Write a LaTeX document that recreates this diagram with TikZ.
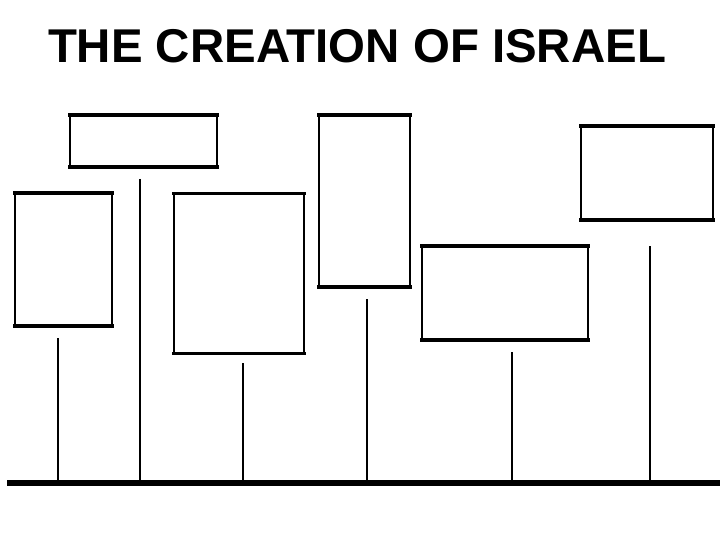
\documentclass[tikz,border=0pt]{standalone}
\usepackage{fontspec}
\setmainfont{Liberation Sans}
\begin{document}
\begin{tikzpicture}[x=1pt,y=-1pt,
  panel/.style={draw=black,line width=1.8pt,inner sep=0pt,outer sep=0pt,fill=white},
  rim/.style={line width=3.2pt,line cap=rect},
  stem/.style={line width=1.2pt},
  thickstem/.style={line width=2pt},
  base/.style={line width=5.5pt}]
\useasboundingbox (0,0) rectangle (720,540);
\node[font=\fontsize{47.4}{50}\selectfont\bfseries,anchor=base] (title) at (357,63) {THE CREATION OF ISRAEL};
% panels
\node[panel,minimum width=147pt,minimum height=52pt] (b1) at (143.5,141) {};
\node[panel,minimum width=97pt,minimum height=133pt] (b2) at (63.5,259.5) {};
\node[panel,minimum width=130pt,minimum height=160pt] (b3) at (239,273.5) {};
\node[panel,minimum width=91pt,minimum height=172pt] (b4) at (364.5,201) {};
\node[panel,minimum width=166pt,minimum height=94pt] (b5) at (505,293) {};
\node[panel,minimum width=132pt,minimum height=94pt] (b6) at (647,173) {};
\foreach \b in {b1,b2,b3,b4,b5,b6}{
  \draw[rim] (\b.north west) -- (\b.north east);
  \draw[rim] (\b.south west) -- (\b.south east);
}
% baseline
\coordinate (L) at (7,483);
\coordinate (R) at (720,483);
\draw[base] (L) -- (R);
% stems
\coordinate (t1) at (58,338);  \coordinate (f1) at (58,483);
\coordinate (t2) at (140,179); \coordinate (f2) at (140,483);
\coordinate (t3) at (243,363); \coordinate (f3) at (243,483);
\coordinate (t4) at (367,299); \coordinate (f4) at (367,483);
\coordinate (t5) at (512,352); \coordinate (f5) at (512,483);
\coordinate (t6) at (650,246); \coordinate (f6) at (650,483);
\draw[stem] (t1) -- (f1);
\draw[thickstem] (t2) -- (f2);
\draw[thickstem] (t3) -- (f3);
\draw[stem] (t4) -- (f4);
\draw[stem] (t5) -- (f5);
\draw[stem] (t6) -- (f6);
\end{tikzpicture}
\end{document}
